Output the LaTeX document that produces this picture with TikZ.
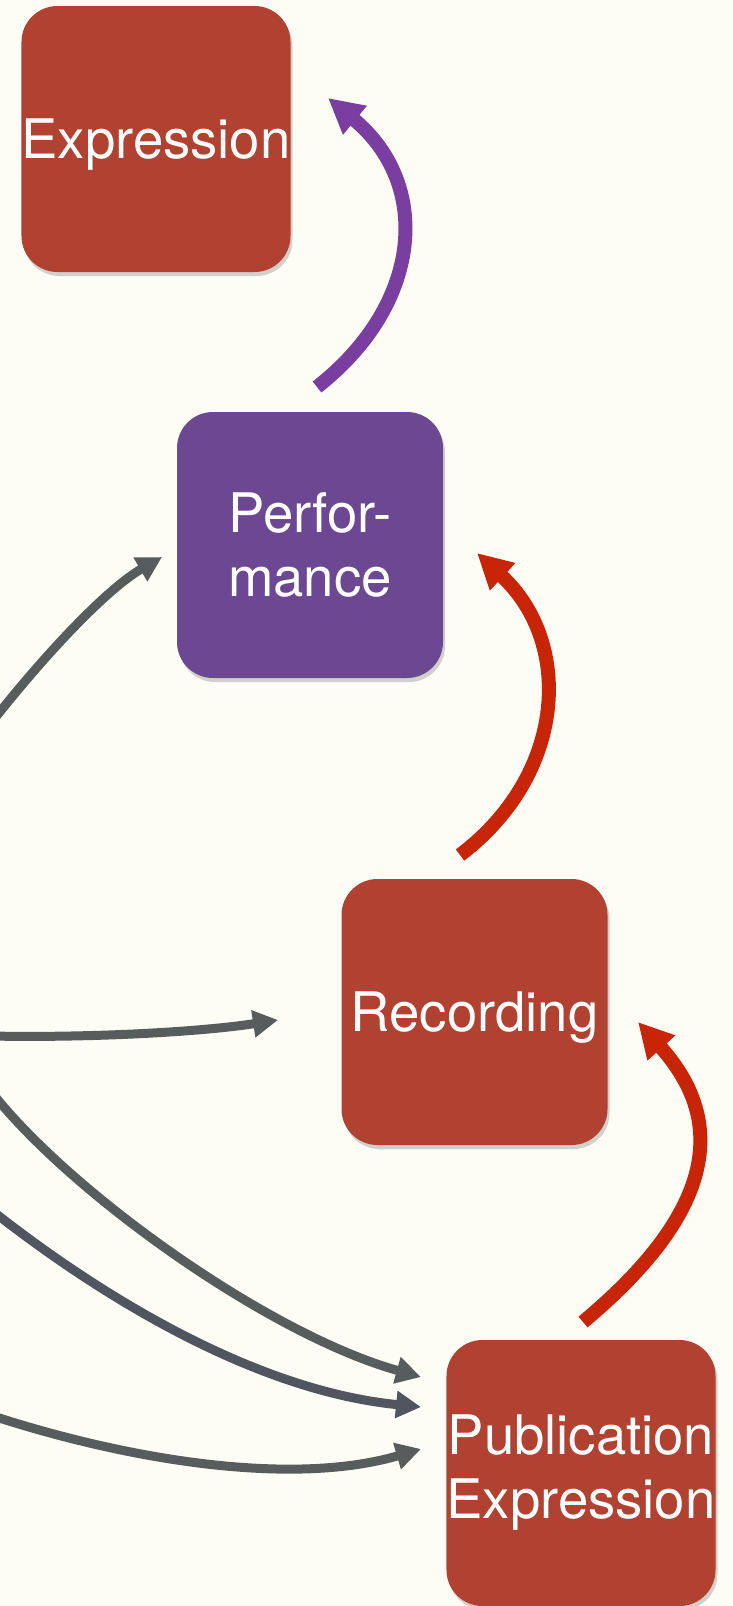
\documentclass[tikz,border=0pt]{standalone}
\usepackage{fontspec}
\setmainfont{TeX Gyre Heros}
\usetikzlibrary{arrows.meta,shadows}
\definecolor{bg}{RGB}{253,253,245}
\definecolor{boxred}{RGB}{177,65,49}
\definecolor{boxpurple}{RGB}{108,72,146}
\definecolor{arrpurple}{RGB}{122,62,160}
\definecolor{arrred}{RGB}{200,36,8}
\definecolor{arrgray}{RGB}{87,92,92}
\definecolor{arrslate}{RGB}{80,85,96}
\tikzset{
  card/.style={rectangle, rounded corners=36pt, minimum width=266pt, minimum height=266pt,
    inner sep=0pt, text=white, font=\fontsize{54.5}{64}\selectfont, align=center,
    drop shadow={opacity=0.35, shadow xshift=2pt, shadow yshift=-4pt}},
  redcard/.style={card, fill=boxred},
  purplecard/.style={card, fill=boxpurple},
  feed/.style={draw=arrgray, line width=9pt, -{Triangle[length=25pt,width=26pt]}},
  chainarrow/.style={line width=14pt, -{Triangle[length=35pt,width=35pt]}}
}
\begin{document}
\begin{tikzpicture}[x=1pt,y=-1pt]
\useasboundingbox (0,0) rectangle (733,1606);
\fill[bg] (0,0) rectangle (733,1606);
\clip (0,0) rectangle (733,1606);

\node[redcard, text depth=0pt] (expr) at (156,139) {Expression};
\node[purplecard] (perf) at (310,545) {Perfor-\\mance};
\node[redcard, text depth=0pt] (rec) at (474.5,1012) {Recording};
\node[redcard] (pub) at (581,1473) {Publication\\Expression};

% chain arrows
\coordinate (pA) at (317,387);
\coordinate (pB) at (328,98);
\draw[chainarrow, draw=arrpurple] (pA) .. controls (423,304) and (432,184) .. (pB);

\coordinate (rA) at (460,855);
\coordinate (rB) at (477,553);
\draw[chainarrow, draw=arrred] (rA) .. controls (566,775) and (574,643) .. (rB);

\coordinate (uA) at (583,1322);
\coordinate (uB) at (638,1022);
\draw[chainarrow, draw=arrred] (uA) .. controls (698,1226) and (738,1133) .. (uB);

% incoming gray arrows
\coordinate (g1A) at (-12,727);
\coordinate (g1B) at (162,557);
\draw[feed] (g1A) .. controls (40,660) and (105,590) .. (g1B);

\coordinate (g2A) at (-10,1036);
\coordinate (g2B) at (278,1020);
\draw[feed] (g2A) .. controls (90,1038) and (200,1032) .. (g2B);

\coordinate (g3A) at (-10,1090);
\coordinate (g3B) at (421,1377);
\draw[feed] (g3A) .. controls (67,1190) and (267,1334) .. (g3B);

\coordinate (g4A) at (-10,1209);
\coordinate (g4B) at (421,1407);
\draw[feed, draw=arrslate] (g4A) .. controls (95,1292) and (251,1390) .. (g4B);

\coordinate (g5A) at (-10,1415);
\coordinate (g5B) at (421,1449);
\draw[feed] (g5A) .. controls (134,1462) and (295,1486) .. (g5B);
\end{tikzpicture}
\end{document}
